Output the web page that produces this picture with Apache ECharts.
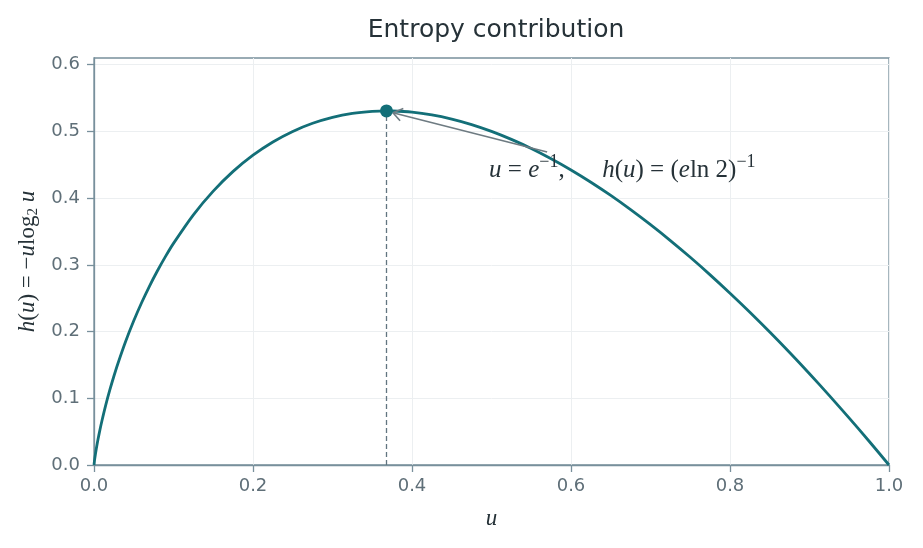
<!DOCTYPE html>
<html><head><meta charset="utf-8">
<script src="https://cdn.jsdelivr.net/npm/echarts@6/dist/echarts.min.js"></script>
<style>html,body{margin:0;padding:0;background:#fff}#c{width:923px;height:548px}</style>
</head><body><div id="c"></div>
<script>
var uValues = [0, 0.0005, 0.001, 0.002, 0.003, 0.005, 0.0075, 0.01, 0.015, 0.02, 0.025, 0.03, 0.04, 0.05, 0.06, 0.07, 0.08, 0.09, 0.1, 0.125, 0.15, 0.175, 0.2, 0.225, 0.25, 0.275, 0.3, 0.325, 0.35, 0.3679, 0.375, 0.4, 0.425, 0.45, 0.475, 0.5, 0.525, 0.55, 0.575, 0.6, 0.625, 0.65, 0.675, 0.7, 0.725, 0.75, 0.775, 0.8, 0.825, 0.85, 0.875, 0.9, 0.925, 0.95, 0.975, 1.0];
var hValues = [0, 0.0055, 0.0100, 0.0179, 0.0251, 0.0382, 0.0529, 0.0664, 0.0909, 0.1129, 0.1330, 0.1518, 0.1858, 0.2161, 0.2435, 0.2686, 0.2915, 0.3127, 0.3322, 0.3750, 0.4105, 0.4401, 0.4644, 0.4842, 0.5000, 0.5122, 0.5211, 0.5270, 0.5301, 0.5307, 0.5306, 0.5288, 0.5247, 0.5184, 0.5102, 0.5000, 0.4880, 0.4744, 0.4590, 0.4422, 0.4238, 0.4040, 0.3827, 0.3602, 0.3364, 0.3113, 0.2850, 0.2575, 0.2290, 0.1993, 0.1686, 0.1368, 0.1040, 0.0703, 0.0356, 0];
var peak = [0.3679, 0.5307];
var arrowFrom = [0.570, 0.469];
var arrowTo = [0.376, 0.528];
var arrowArm1 = [0.3850, 0.5159];
var arrowArm2 = [0.3891, 0.5343];
var labelPos = [0.497, 0.442];
var yTicks = [0, 0.1, 0.2, 0.3, 0.4, 0.5, 0.6];

var axisCol = '#78909c', labCol = '#5f6f78', gridCol = '#eceff1', teal = '#136f78', txt = '#263238';
var serif = '"Liberation Serif", "DejaVu Serif", serif';
var sans = '"DejaVu Sans", sans-serif';
var arrowStyle = {color: '#6e7b82', type: 'solid', width: 1.6};
var chart = echarts.init(document.getElementById('c'));
chart.setOption({
  animation: false,
  title: {text: 'Entropy contribution', left: 491, top: 13, textAlign: 'center',
    textStyle: {fontFamily: sans, fontSize: 25, fontWeight: 'normal', color: txt}},
  grid: {left: 94, right: 34, top: 58, bottom: 83, show: true, borderColor: axisCol, borderWidth: 1.3},
  xAxis: {type: 'value', min: 0, max: 1, interval: 0.2,
    name: 'u', nameLocation: 'middle', nameGap: 42,
    nameTextStyle: {fontFamily: serif, fontStyle: 'italic', fontSize: 23, color: txt},
    axisLine: {show: true, lineStyle: {color: axisCol, width: 1.3}},
    axisTick: {show: true, length: 7, lineStyle: {color: axisCol, width: 1.3}},
    axisLabel: {color: labCol, fontSize: 18, fontFamily: sans, margin: 12,
      formatter: function (v) { return v.toFixed(1); }},
    splitLine: {show: true, lineStyle: {color: gridCol, width: 1}}},
  yAxis: {type: 'value', min: 0, max: 0.61, interval: 0.1,
    name: '{i|h}{r|(}{i|u}{r|) = −}{i|u}{r|log}{s|2}{r| }{i|u}', nameLocation: 'middle', nameGap: 46, nameRotate: 90,
    nameTextStyle: {color: txt, rich: {
      i: {fontFamily: serif, fontStyle: 'italic', fontSize: 23, color: txt},
      r: {fontFamily: serif, fontSize: 23, color: txt},
      s: {fontFamily: serif, fontSize: 15, color: txt, verticalAlign: 'bottom', padding: [10, 0, 0, 0]}}},
    axisLine: {show: true, lineStyle: {color: axisCol, width: 1.3}},
    axisTick: {show: true, length: 7, lineStyle: {color: axisCol, width: 1.3}, customValues: yTicks},
    axisLabel: {color: labCol, fontSize: 18, fontFamily: sans, margin: 14, customValues: yTicks,
      formatter: function (v) { return v.toFixed(1); }},
    splitLine: {show: true, lineStyle: {color: gridCol, width: 1}}},
  series: [
    {type: 'line', data: uValues.map(function (u, i) { return [u, hValues[i]]; }),
      smooth: 0.3, showSymbol: false, symbol: 'none',
      lineStyle: {color: teal, width: 2.8}, z: 3,
      markLine: {silent: true, symbol: ['none', 'none'], animation: false, label: {show: false},
        data: [
          [{coord: [peak[0], 0], lineStyle: {color: '#627580', type: [5, 3], width: 1.3}}, {coord: [peak[0], peak[1]]}],
          [{coord: arrowFrom, lineStyle: arrowStyle}, {coord: arrowTo}],
          [{coord: arrowTo, lineStyle: arrowStyle}, {coord: arrowArm1}],
          [{coord: arrowTo, lineStyle: arrowStyle}, {coord: arrowArm2}]
        ]},
      markPoint: {silent: true, animation: false, data: [
        {coord: labelPos, symbol: 'circle', symbolSize: 0,
          label: {show: true, position: 'right', distance: 0,
            formatter: '{i|u}{r| = }{i|e}{p|−1}{r|,      }{i|h}{r|(}{i|u}{r|) = (}{i|e}{r|ln 2)}{p|−1}',
            rich: {
              i: {fontFamily: serif, fontStyle: 'italic', fontSize: 25, color: txt},
              r: {fontFamily: serif, fontSize: 25, color: txt},
              p: {fontFamily: serif, fontSize: 18, color: txt, verticalAlign: 'top', padding: [0, 0, 15, 0]}}}}
      ]}},
    {type: 'scatter', data: [peak], symbol: 'circle', symbolSize: 13, itemStyle: {color: teal, opacity: 1}, z: 5}
  ]
});
</script></body></html>
